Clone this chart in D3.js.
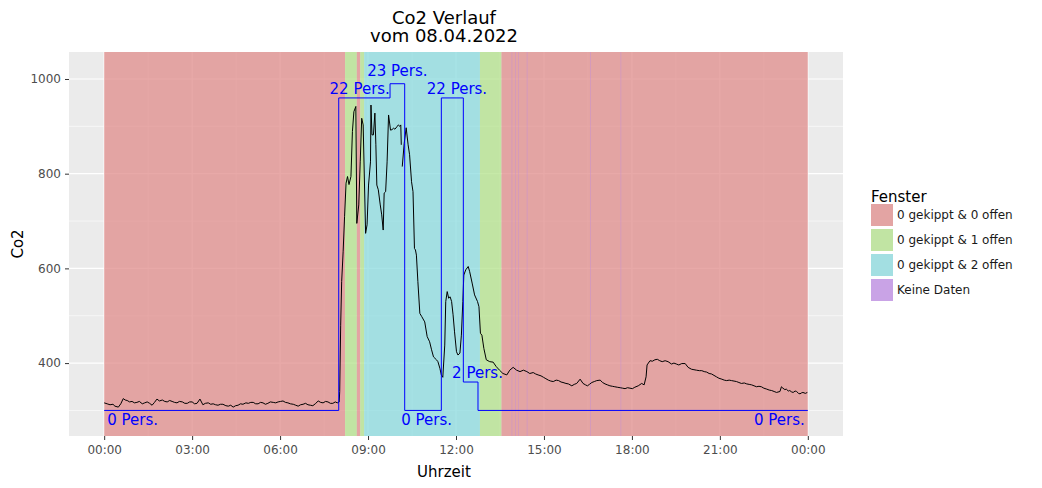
<!DOCTYPE html>
<html>

<head>
    <meta charset="UTF-8">
    <script src="https://d3js.org/d3.v7.min.js"></script>
    <style>
        body {
            margin: 0;
            background-color: #ffffff;
        }

        text {
            font-family: 'DejaVu Sans', sans-serif;
        }

        .tick line {
            stroke: #333333;
        }

        .tick text {
            fill: #4d4d4d;
            font-size: 12px;
        }
    </style>
</head>

<body>
    <svg id="chart" width="1042" height="488"></svg>
    <script>
        // window states (Fenster) as time ranges in minutes after midnight
        var fensterNames = ["0 gekippt & 0 offen", "0 gekippt & 1 offen", "0 gekippt & 2 offen", "Keine Daten"];
        var fensterStart = [0, 493, 517, 524, 532, 769, 813, 834, 841, 847, 865, 995, 1057];
        var fensterEnd = [493, 517, 524, 532, 769, 813, 1440, 835, 842, 848, 866, 996, 1058];
        var fensterType = [0, 1, 0, 1, 2, 1, 0, 3, 3, 3, 3, 3, 3];

        // persons in the room (step line)
        var personMinute = [0, 480, 585, 615, 690, 735, 765, 1440];
        var personCount = [0, 22, 23, 0, 22, 2, 0, 0];

        // person labels: minute, count, label height in Co2 units
        var labelMinute = [0, 523, 600, 660, 722, 764, 1440];
        var labelCount = [0, 22, 23, 0, 22, 2, 0];
        var labelY = [270, 968, 1006, 270, 968, 368, 270];

        // Co2 measurements (null = no value)
        var co2Minute = [0, 6, 12, 18, 22, 29, 34, 39, 43, 47, 52, 57, 62, 67, 72, 78, 83, 88, 93, 98,
            103, 108, 113, 119, 124, 129, 134, 139, 144, 149, 154, 160, 165, 170, 175, 180, 185, 190, 196, 202,
            207, 213, 218, 223, 228, 233, 238, 243, 249, 254, 259, 264, 269, 274, 279, 284, 290, 295, 300, 305,
            310, 315, 320, 325, 330, 335, 340, 346, 351, 356, 361, 366, 371, 376, 381, 387, 392, 397, 402, 407,
            412, 417, 422, 427, 432, 438, 443, 448, 453, 458, 463, 468, 473, 477, 481,
            482, 484, 486, 489, 492, 495, 498, 501, 505, 508, 511, 515, 517, 521, 524, 527, 530, 535, 538, 541,
            545, 546, 548, 551, 554, 556, 558, 561, 565, 568, 571, 573, 576, 579, 582, 586, 589, 592, 595, 599,
            602, 605, 607, 608, 609, 610, 614, 618, 622, 625, 629, 632, 635, 637, 639, 642, 646, 650, 656, 661,
            666, 670, 674, 680, 683, 687, 690, 693, 697, 699, 702, 705, 708, 711, 714, 717, 721, 724, 728, 731,
            734, 736, 740, 745, 748, 753, 758, 764, 767, 770, 773, 777, 782, 789, 796, 802, 809, 816, 824, 830,
            837, 844, 851, 858, 865, 871, 878, 883, 888, 894, 899, 904, 909, 914, 919, 925, 930, 935, 939, 945,
            950, 957, 962, 967, 974, 980, 985, 989, 993, 998, 1003, 1008, 1015, 1020, 1025, 1030, 1035, 1040, 1045, 1050,
            1056, 1061, 1066, 1071, 1076, 1081, 1086, 1093, 1100, 1105, 1109, 1111, 1117, 1122, 1127, 1132, 1137, 1142, 1148, 1154,
            1161, 1166, 1171, 1176, 1182, 1189, 1195, 1202, 1207, 1212, 1218, 1223, 1228, 1233, 1238, 1243, 1248, 1253, 1258, 1264,
            1269, 1274, 1279, 1284, 1289, 1294, 1299, 1304, 1310, 1315, 1320, 1325, 1330, 1335, 1340, 1345, 1350, 1356, 1361, 1366,
            1371, 1376, 1383, 1386, 1389, 1393, 1396, 1400, 1403, 1407, 1410, 1414, 1417, 1421, 1424, 1427, 1430, 1435, 1439];
        var co2Value = [316, 314, 312, 313, 309, 307, 314, 325, 322, 321, 318, 319, 316, 317, 319, 314, 316, 318, 315, 311,
            317, 324, 320, 322, 319, 318, 321, 319, 317, 316, 319, 318, 315, 315, 318, 318, 314, 315, 324, 312,
            315, 316, 313, 314, 312, 311, 313, 313, 310, 309, 311, 307, 310, 311, 314, 313, 316, 315, 317, 317,
            314, 314, 317, 316, 313, 315, 318, 317, 316, 318, 319, 320, 317, 316, 314, 313, 311, 309, 312, 313,
            315, 312, 311, 310, 314, 320, 317, 316, 319, 318, 315, 315, 318, 316, 318,
            340, 480, 572, 635, 710, 780, 794, 777, 794, 889, 931, 942, 695, 734, 825, 917, 903, 674, 692, 776,
            825, 945, 882, 882, 928, 861, 776, 766, 734, 713, 681, 759, 762, 825, 924, 892, 893, 896, 894, 899,
            903, 900, 903, 861, null, 815, 864, 897, 861, 840, 783, 762, 642, 639, 628, 572, 505, 498, 487, 456,
            445, 428, 413, 407, 403, 389, 375, 370, 438, 530, 551, 537, 540, 530, 502, 466, 424, 417, 421, 459,
            530, 586, 597, 604, 593, 569, 544, 530, 519, 463, 459, 431, 407, 403, 402, 393, 385, 378, 375, 385,
            391, 385, 382, 385, 382, 378, 380, 377, 375, 373, 370, 367, 364, 362, 361, 364, 363, 360, 359, 357,
            356, 352, 355, 357, 366, 357, 354, 352, 355, 359, 361, 363, 364, 359, 356, 354, 352, 351, 350, 349,
            348, 347, 346, 348, 347, 346, 349, 352, 357, 354, 371, 396, 405, 404, 407, 408, 405, 403, 405, 403,
            398, 400, 398, 396, 399, 399, 391, 387, 386, 385, 384, 384, 382, 381, 378, 377, 374, 371, 368, 366,
            364, 363, 364, 363, 362, 361, 359, 357, 358, 356, 355, 354, 352, 350, 351, 350, 347, 345, 343, 342,
            340, 338, 340, 350, 347, 344, 345, 341, 342, 339, 338, 341, 340, 336, 335, 337, 338, 336, 338];

        // tick values
        var xTicks = [0, 180, 360, 540, 720, 900, 1080, 1260, 1440];
        var xMinor = [90, 270, 450, 630, 810, 990, 1170, 1350];
        var yTicks = [400, 600, 800, 1000];
        var yMinor = [300, 500, 700, 900];

        var legendColors = ["#e3a4a3", "#c1e4a3", "#a3dfe2", "#c9a3e6"];
        var rectColors = ["#e08c8b", "#b3e28b", "#8bdbdf", "#be8be4"];

        var svg = d3.select("#chart");
        var panelLeft = 69, panelRight = 843, panelTop = 52, panelBottom = 436;

        var x = d3.scaleLinear().domain([-72, 1512]).range([panelLeft, panelRight]);
        var y = d3.scaleLinear().domain([246, 1057]).range([panelBottom, panelTop]);
        var personScale = d3.scaleLinear().domain([0, 23]).range([300, 990]);

        // panel background and grid
        svg.append("rect")
            .attr("x", panelLeft).attr("y", panelTop)
            .attr("width", panelRight - panelLeft).attr("height", panelBottom - panelTop)
            .attr("fill", "#ebebeb");

        var grid = svg.append("g");
        grid.selectAll(".vminor").data(xMinor).enter().append("line")
            .attr("x1", function (d) { return x(d); }).attr("x2", function (d) { return x(d); })
            .attr("y1", panelTop).attr("y2", panelBottom)
            .attr("stroke", "#ffffff").attr("stroke-width", 0.6);
        grid.selectAll(".hminor").data(yMinor).enter().append("line")
            .attr("y1", function (d) { return y(d); }).attr("y2", function (d) { return y(d); })
            .attr("x1", panelLeft).attr("x2", panelRight)
            .attr("stroke", "#ffffff").attr("stroke-width", 0.6);
        grid.selectAll(".vmajor").data(xTicks).enter().append("line")
            .attr("x1", function (d) { return x(d); }).attr("x2", function (d) { return x(d); })
            .attr("y1", panelTop).attr("y2", panelBottom)
            .attr("stroke", "#ffffff").attr("stroke-width", 1.2);
        grid.selectAll(".hmajor").data(yTicks).enter().append("line")
            .attr("y1", function (d) { return y(d); }).attr("y2", function (d) { return y(d); })
            .attr("x1", panelLeft).attr("x2", panelRight)
            .attr("stroke", "#ffffff").attr("stroke-width", 1.2);

        // window state rectangles
        svg.append("g").selectAll("rect")
            .data(d3.range(fensterStart.length))
            .enter()
            .append("rect")
            .attr("x", function (i) { return x(fensterStart[i]); })
            .attr("width", function (i) { return x(fensterEnd[i]) - x(fensterStart[i]); })
            .attr("y", panelTop)
            .attr("height", panelBottom - panelTop)
            .attr("fill", function (i) { return rectColors[fensterType[i]]; })
            .attr("fill-opacity", 0.75);

        // Co2 line
        var co2Data = co2Minute.map(function (m, i) { return { m: m, v: co2Value[i] }; });
        var co2Line = d3.line()
            .defined(function (d) { return d.v !== null; })
            .x(function (d) { return x(d.m); })
            .y(function (d) { return y(d.v); });
        svg.append("path")
            .datum(co2Data)
            .attr("d", co2Line)
            .attr("fill", "none")
            .attr("stroke", "#000000")
            .attr("stroke-width", 1);

        // persons step line
        var personData = personMinute.map(function (m, i) { return { m: m, p: personCount[i] }; });
        var personLine = d3.line()
            .curve(d3.curveStepAfter)
            .x(function (d) { return x(d.m); })
            .y(function (d) { return y(personScale(d.p)); });
        svg.append("path")
            .datum(personData)
            .attr("d", personLine)
            .attr("fill", "none")
            .attr("stroke", "#0000ff")
            .attr("stroke-width", 1);

        // person labels
        svg.append("g").selectAll("text")
            .data(d3.range(labelMinute.length))
            .enter()
            .append("text")
            .attr("x", function (i) {
                if (i === 0) return x(labelMinute[i]) + 3;
                if (i === labelMinute.length - 1) return x(labelMinute[i]) - 3;
                return x(labelMinute[i]);
            })
            .attr("y", function (i) { return y(labelY[i]); })
            .attr("text-anchor", function (i) {
                if (i === 0) return "start";
                if (i === labelMinute.length - 1) return "end";
                return "middle";
            })
            .attr("fill", "#0000ff")
            .style("font-size", "15px")
            .text(function (i) { return labelCount[i] + " Pers."; });

        // axes
        var xAxis = d3.axisBottom(x)
            .tickValues(xTicks)
            .tickSize(4)
            .tickPadding(5)
            .tickFormat(function (m) {
                var h = Math.floor(m / 60) % 24;
                return (h < 10 ? "0" : "") + h + ":00";
            });
        var gx = svg.append("g").attr("transform", "translate(0," + panelBottom + ")").call(xAxis);
        gx.select(".domain").remove();

        var yAxis = d3.axisLeft(y).tickValues(yTicks).tickSize(4).tickPadding(4).tickFormat(d3.format("d"));
        var gy = svg.append("g").attr("transform", "translate(" + panelLeft + ",0)").call(yAxis);
        gy.select(".domain").remove();

        // titles
        svg.append("text").attr("x", 444).attr("y", 24).attr("text-anchor", "middle")
            .style("font-size", "18px").text("Co2 Verlauf");
        svg.append("text").attr("x", 444).attr("y", 42).attr("text-anchor", "middle")
            .style("font-size", "18px").text("vom 08.04.2022");
        svg.append("text").attr("x", 444).attr("y", 477).attr("text-anchor", "middle")
            .style("font-size", "15px").text("Uhrzeit");
        svg.append("text").attr("transform", "translate(23," + ((panelTop + panelBottom) / 2) + ") rotate(-90)")
            .attr("text-anchor", "middle")
            .style("font-size", "15px").text("Co2");

        // legend
        var legend = svg.append("g").attr("transform", "translate(871,0)");
        legend.append("text").attr("x", 0).attr("y", 202).style("font-size", "15px").text("Fenster");
        var items = legend.selectAll(".item").data(fensterNames).enter().append("g")
            .attr("transform", function (d, i) { return "translate(0," + (204 + i * 25) + ")"; });
        items.append("rect").attr("width", 22).attr("height", 22)
            .attr("fill", function (d, i) { return legendColors[i]; });
        items.append("text").attr("x", 26).attr("y", 11).attr("dy", "0.35em")
            .style("font-size", "12px").attr("fill", "#1a1a1a")
            .text(function (d) { return d; });
    </script>
</body>

</html>
